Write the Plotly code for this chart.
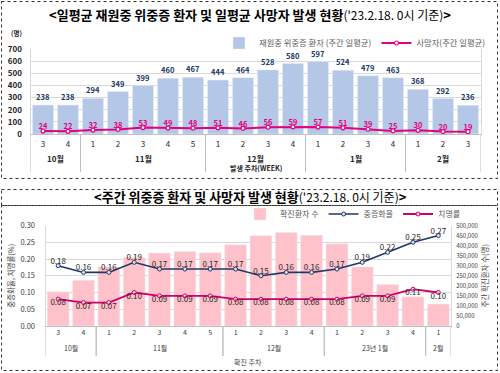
import plotly.graph_objects as go

# ---------------- top chart data ----------------
top_months = ['10월', '10월', '11월', '11월', '11월', '11월', '11월', '12월', '12월', '12월', '12월',
              '1월', '1월', '1월', '1월', '2월', '2월', '2월']
top_weeks = ['3', '4', '1', '2', '3', '4', '5', '1', '2', '3', '4', '1', '2', '3', '4', '1', '2', '3']
severe_patients = [238, 238, 294, 349, 399, 460, 467, 444, 464, 528, 580, 597, 524, 479, 463, 368, 292, 236]
daily_deaths = [24, 22, 32, 38, 53, 49, 48, 51, 46, 56, 59, 57, 51, 39, 25, 30, 20, 19]
top_yticks = [0, 100, 200, 300, 400, 500, 600, 700]

# ---------------- bottom chart data ----------------
bot_months = ['10월', '10월', '11월', '11월', '11월', '11월', '11월', '12월', '12월', '12월', '12월',
              '23년 1월', '23년 1월', '23년 1월', '23년 1월', '2월']
bot_weeks = ['3', '4', '1', '2', '3', '4', '5', '1', '2', '3', '4', '1', '2', '3', '4', '1']
weekly_cases = [170000, 228000, 294000, 342000, 363000, 371000, 365000, 404000, 449000, 465000,
                452000, 409000, 294000, 206000, 145000, 109000]
severity_rate = [0.18, 0.16, 0.16, 0.19, 0.17, 0.17, 0.17, 0.17, 0.15, 0.16, 0.16, 0.17, 0.19, 0.22, 0.25, 0.27]
fatality_rate = [0.08, 0.07, 0.07, 0.10, 0.09, 0.09, 0.09, 0.08, 0.08, 0.08, 0.08, 0.08, 0.09, 0.09, 0.11, 0.10]
rate_ticks = [0.00, 0.05, 0.10, 0.15, 0.20, 0.25, 0.30]
RATE_MAX, CASE_MAX = 0.30, 500000

FONT = "Noto Sans CJK KR"
W, H = 500, 373


def px(x):
    return x / W


def py(y):
    return 1 - y / H


def groups(labels):
    out = []
    start = 0
    for i in range(1, len(labels) + 1):
        if i == len(labels) or labels[i] != labels[start]:
            out.append((labels[start], start, i - 1))
            start = i
    return out


BLUE = '#B4C7E7'
NAVY = '#203864'
MAGENTA = '#E4007F'
PINK = '#FFC2CA'
CRIMSON = '#D0006A'
GRID = '#D9D9D9'
DIV = '#BFBFBF'

xt = list(range(len(top_weeks)))
xb = list(range(len(bot_weeks)))

fig = go.Figure()

# ---- top ----
fig.add_trace(go.Bar(x=xt, y=severe_patients, name='재원중 위중증 환자 (주간 일평균)',
                     marker_color=BLUE, width=0.84, text=severe_patients,
                     texttemplate='<b>%{text}</b>', textposition='outside', constraintext='none',
                     textfont=dict(size=7.5, color=NAVY, family=FONT), cliponaxis=False,
                     xaxis='x', yaxis='y', legend='legend'))
fig.add_trace(go.Scatter(x=xt, y=daily_deaths, mode='lines+markers', name='사망자(주간 일평균)',
                         line=dict(color=MAGENTA, width=2),
                         marker=dict(size=4, color='white', line=dict(color=MAGENTA, width=1.2)),
                         xaxis='x', yaxis='y', legend='legend'))
fig.add_trace(go.Scatter(x=xt, y=daily_deaths, mode='text', text=daily_deaths,
                         texttemplate='<b>%{text}</b>', textposition='top center',
                         textfont=dict(size=7.5, color=MAGENTA, family=FONT), showlegend=False,
                         cliponaxis=False, xaxis='x', yaxis='y'))

# ---- bottom ----
fig.add_trace(go.Bar(x=xb, y=weekly_cases, name='확진환자 수', marker_color=PINK, width=0.86,
                     xaxis='x2', yaxis='y3', legend='legend2'))
fig.add_trace(go.Scatter(x=xb, y=severity_rate, mode='lines+markers', name='중증화율',
                         line=dict(color=NAVY, width=1.6),
                         marker=dict(size=4, color='#DCE3F0', line=dict(color=NAVY, width=1)),
                         xaxis='x2', yaxis='y4', legend='legend2'))
fig.add_trace(go.Scatter(x=xb, y=fatality_rate, mode='lines+markers', name='치명률',
                         line=dict(color=CRIMSON, width=1.8),
                         marker=dict(size=4, color='#F6D0E0', line=dict(color=CRIMSON, width=1)),
                         xaxis='x2', yaxis='y4', legend='legend2'))
fig.add_trace(go.Scatter(x=xb, y=severity_rate, mode='text', text=severity_rate,
                         texttemplate='%{text:.2f}', textposition='top center',
                         textfont=dict(size=8, color='#262626', family=FONT), showlegend=False,
                         cliponaxis=False, xaxis='x2', yaxis='y4'))
fig.add_trace(go.Scatter(x=xb, y=fatality_rate, mode='text', text=fatality_rate,
                         texttemplate='%{text:.2f}', textposition='bottom center',
                         textfont=dict(size=8, color='#262626', family=FONT), showlegend=False,
                         cliponaxis=False, xaxis='x2', yaxis='y4'))

fig.update_layout(
    width=W, height=H,
    margin=dict(l=0, r=0, t=0, b=0, autoexpand=False),
    paper_bgcolor='white', plot_bgcolor='white',
    font=dict(family=FONT, size=8, color='#404040'),
    showlegend=True,
    xaxis=dict(domain=[px(30.5), px(480.5)], anchor='y', range=[-0.5, len(xt) - 0.5], automargin=False,
               tickvals=xt, ticktext=top_weeks, showline=True, linecolor=DIV, showgrid=False,
               zeroline=False, ticklabelstandoff=2,
               tickfont=dict(family=FONT, size=8, color='#262626')),
    yaxis=dict(domain=[py(134), py(49)], anchor='x', range=[0, 700], tickvals=top_yticks, automargin=False,
               gridcolor=GRID, showline=True, linecolor=GRID, mirror=True, zeroline=False,
               ticklabelstandoff=6,
               tickfont=dict(family=FONT, size=8, color='#262626', weight='bold')),
    xaxis2=dict(domain=[px(45.5), px(451)], anchor='y3', range=[-0.5, len(xb) - 0.5], automargin=False,
                tickvals=xb, ticktext=bot_weeks, showline=True, linecolor=DIV, showgrid=False,
                zeroline=False, ticklabelstandoff=0,
                tickfont=dict(family=FONT, size=7, color='#404040')),
    # base: weekly confirmed cases (right side); grid drawn at the rate-axis tick heights
    yaxis3=dict(domain=[py(326), py(225.5)], anchor='x2', side='right', range=[0, CASE_MAX],
                dtick=50000, tickformat=',', showgrid=False, zeroline=False, ticklabelstandoff=3,
                showline=True, linecolor=GRID, automargin=False,
                minor=dict(tickvals=[r / RATE_MAX * CASE_MAX for r in rate_ticks], showgrid=True,
                           gridcolor=GRID, ticks=''),
                tickfont=dict(family=FONT, size=6, color='#404040'),
                title=dict(text='주간 확진환자 수(명)', font=dict(family=FONT, size=7.5, color='#404040'),
                           standoff=4)),
    # overlay: rates (left side)
    yaxis4=dict(overlaying='y3', anchor='x2', side='left', range=[0, RATE_MAX], tickvals=rate_ticks,
                tickformat='.2f', showgrid=False, zeroline=False, showline=True, linecolor=GRID,
                automargin=False,
                ticklabelstandoff=8, tickfont=dict(family=FONT, size=7.5, color='#404040'),
                title=dict(text='중증화율, 치명률(%)', font=dict(family=FONT, size=7.5, color='#404040'),
                           standoff=4)),
    legend=dict(x=px(219), y=py(43), xanchor='left', yanchor='middle', orientation='h',
                font=dict(family=FONT, size=8.3, color='#595959'), bgcolor='rgba(0,0,0,0)',
                itemwidth=30, tracegroupgap=0),
    legend2=dict(x=px(240), y=py(214), xanchor='left', yanchor='middle', orientation='h',
                 font=dict(family=FONT, size=8, color='#595959'), bgcolor='rgba(0,0,0,0)',
                 itemwidth=30, tracegroupgap=0),
)

ann = [
    dict(x=0.5, y=py(14), xref='paper', text="<b>&lt;일평균 재원중 위중증 환자 및 일평균 사망자 발생 현황</b>"
         "<span style='font-size:12px'>('23.2.18. 0시 기준)</span><b>&gt;</b>",
         font=dict(family=FONT, size=13, color='black')),
    dict(x=0.5, y=py(196), xref='paper', text="<b>&lt;주간 위중증 환자 및 사망자 발생 현황</b>"
         "<span style='font-size:12px'>('23.2.18. 0시 기준)</span><b>&gt;</b>",
         font=dict(family=FONT, size=13, color='black')),
    dict(x=px(16), y=py(33), xref='paper', text='<b>(명)</b>', font=dict(family=FONT, size=6.5, color='#262626')),
    dict(x=px(256), y=py(168), xref='paper', text='<b>발생 주차(WEEK)</b>',
         font=dict(family=FONT, size=7, color='#262626')),
    dict(x=px(248), y=py(362), xref='paper', text='확진 주차', font=dict(family=FONT, size=7, color='#404040')),
]
shapes = []
for name, a, b in groups(top_months):
    ann.append(dict(x=(a + b) / 2, xref='x', y=py(158), text='<b>' + name + '</b>',
                    font=dict(family=FONT, size=8, color='#262626')))
    for edge in (a - 0.5, b + 0.5):
        shapes.append(dict(type='line', xref='x', yref='paper', x0=edge, x1=edge, y0=py(134), y1=py(172),
                           line=dict(color=DIV, width=1)))
for name, a, b in groups(bot_months):
    ann.append(dict(x=(a + b) / 2, xref='x2', y=py(348), text=name,
                    font=dict(family=FONT, size=7, color='#404040')))
    for edge in (a - 0.5, b + 0.5):
        shapes.append(dict(type='line', xref='x2', yref='paper', x0=edge, x1=edge, y0=py(326), y1=py(356),
                           line=dict(color=DIV, width=1)))
for a in ann:
    a.update(yref='paper', showarrow=False, xanchor='center', yanchor='middle')

boxes = [(1.5, 1.5, 497.5, 178.5), (1.5, 189.5, 497.5, 205.5), (1.5, 205.5, 497.5, 370.5)]
for a, b, c, d in boxes:
    shapes.append(dict(type='rect', xref='paper', yref='paper', x0=px(a), y0=py(b), x1=px(c), y1=py(d),
                       line=dict(color='#333333', width=1, dash='dot')))
fig.update_layout(annotations=ann, shapes=shapes)

fig.write_html("out.html", config={'displayModeBar': False},
               post_script="document.body.style.margin='0';document.body.style.overflow='hidden';")
